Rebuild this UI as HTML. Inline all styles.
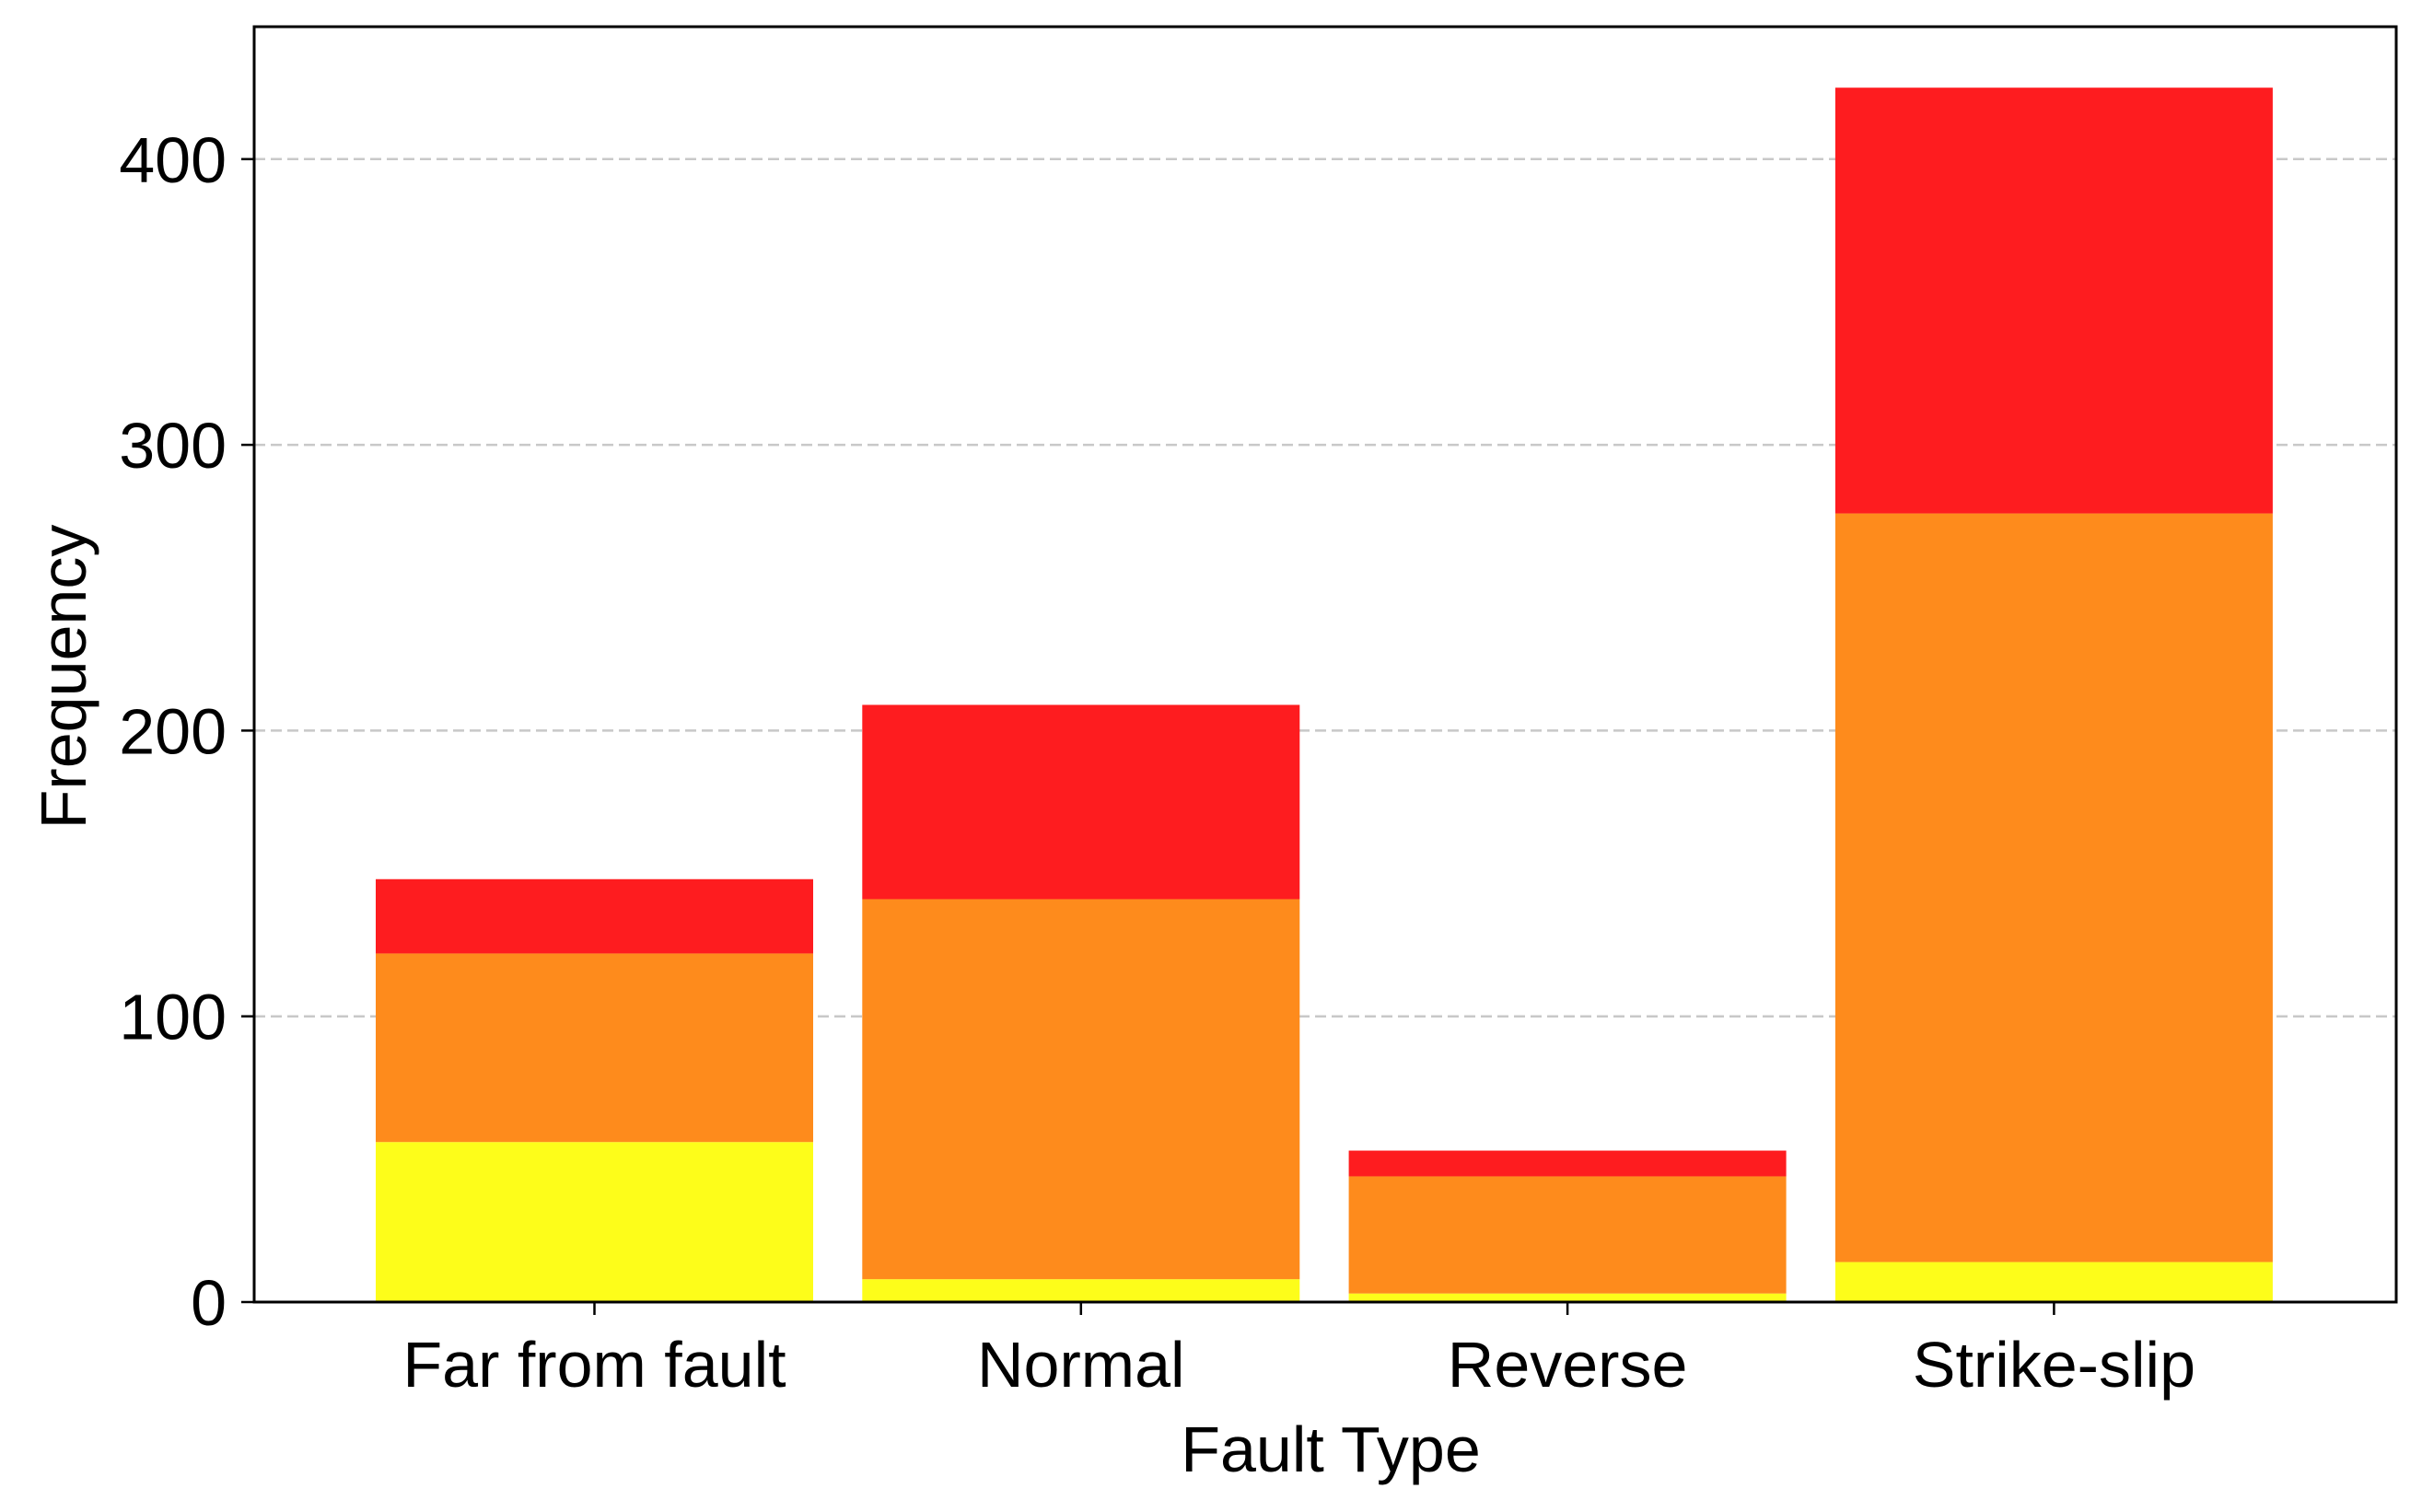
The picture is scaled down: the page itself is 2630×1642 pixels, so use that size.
<!DOCTYPE html>
<html><head><meta charset="utf-8"><style>
body{margin:0;background:#fff;}
svg text{font-family:"Liberation Sans",sans-serif;fill:#000;}
</style></head><body>
<svg id="chart" width="2630" height="1637" xmlns="http://www.w3.org/2000/svg">
<g id="grid"></g>
<g id="bars"></g>
<g id="axes"></g>
<text x="1445" y="1598" font-size="70" text-anchor="middle">Fault Type</text>
<text x="0" y="0" font-size="70" text-anchor="middle" transform="translate(93,735) rotate(-90)">Frequency</text>
</svg>
<script>
const categories = ["Far from fault","Normal","Reverse","Strike-slip"];
const yellowVals = [56, 8, 3, 14];
const orangeVals = [66, 133, 41, 262];
const redVals = [26, 68, 9, 149];
const yTicks = [0,100,200,300,400];

const NS="http://www.w3.org/2000/svg";
const L=276, R=2602, T=29, B=1414;
const y = v => B - v*3.103;
const step = 528.3, x0 = 645.5, bw = 475;
const xc = i => x0 + i*step;
function mk(tag, attrs, parent){const e=document.createElementNS(NS,tag);for(const k in attrs)e.setAttribute(k,attrs[k]);parent.appendChild(e);return e;}
const grid=document.getElementById('grid'), bars=document.getElementById('bars'), axes=document.getElementById('axes');
yTicks.forEach(t=>{
  if(t>0){const g=mk('line',{x1:L,x2:R,y1:y(t),y2:y(t),stroke:'#c8c8c8','stroke-width':2.5,'stroke-dasharray':'12,6'},grid);
  
  }
  const tk=mk('line',{x1:L-14,x2:L,y1:y(t),y2:y(t),stroke:'#000','stroke-width':2.5},axes);
  
  
  const lb=mk('text',{x:L-30,y:y(t)+25,'font-size':70,'text-anchor':'end'},axes);
  lb.textContent=t;
  
  
});
const series=[[yellowVals,'#fdfd1a','yellow'],[orangeVals,'#fe8b1c','orange'],[redVals,'#fe1c1f','red']];
categories.forEach((c,i)=>{
  let base=0;
  series.forEach(([vals,col,nm])=>{
    const v=vals[i];
    const r=mk('rect',{x:xc(i)-bw/2,y:y(base+v),width:bw,height:y(base)-y(base+v),fill:col},bars);
    
    
    base+=v;
  });
  const tk=mk('line',{x1:xc(i),x2:xc(i),y1:B,y2:B+14,stroke:'#000','stroke-width':2.5},axes);
  
  
  const lb=mk('text',{x:xc(i),y:B+92,'font-size':70,'text-anchor':'middle'},axes);
  lb.textContent=c;
  
  
});
const fr=mk('rect',{x:L,y:T,width:R-L,height:B-T,fill:'none',stroke:'#000','stroke-width':3},axes);


</script>
</body></html>
